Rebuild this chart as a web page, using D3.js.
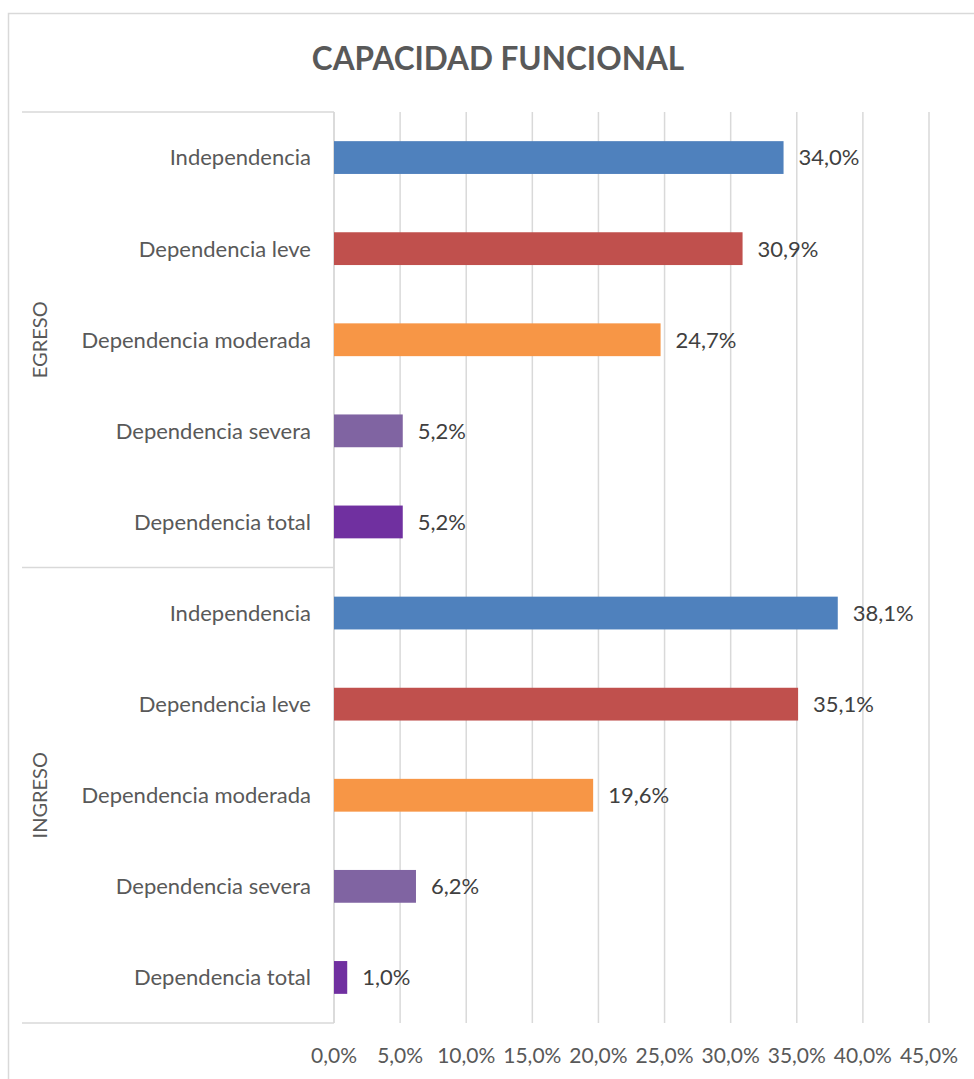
<!DOCTYPE html>
<html>
<head>
<meta charset="utf-8">
<script src="https://cdn.jsdelivr.net/npm/d3@7"></script>
<style>
  body { margin: 0; background: #fff; }
  text { font-family: "Lato", "Open Sans", sans-serif; fill: #595959; }
  .grid line { stroke: #d9d9d9; stroke-width: 1.5; }
  .frame { stroke: #d9d9d9; stroke-width: 1.5; fill: none; }
</style>
</head>
<body>
<div id="chart"></div>
<script>
//*********************** DATA ***********************
var groups = ["EGRESO", "INGRESO"];
var categories = ["Independencia", "Dependencia leve", "Dependencia moderada", "Dependencia severa", "Dependencia total"];
var colors = ["#4f81bd", "#c0504d", "#f79646", "#8064a2", "#7030a0"];
var egreso = [34.0, 30.9, 24.7, 5.2, 5.2];
var ingreso = [38.1, 35.1, 19.6, 6.2, 1.0];
var ticks = [0, 5, 10, 15, 20, 25, 30, 35, 40, 45];

var rows = [];
groups.forEach(function(g, gi) {
  var vals = gi === 0 ? egreso : ingreso;
  categories.forEach(function(c, ci) {
    rows.push({group: g, cat: c, value: vals[ci], color: colors[ci], key: g + "|" + c});
  });
});

//*********************** LAYOUT ***********************
var width = 974,
    height = 1079,
    margin = {top: 112, bottom: 56, left: 334, right: 45},
    catLeft = 22;

var fmt = function(v) { return v.toFixed(1).replace(".", ",") + "%"; };

var xScale = d3.scaleLinear().domain([0, 45]).range([margin.left, width - margin.right]);
var yScale = d3.scaleBand()
    .domain(rows.map(function(d) { return d.key; }))
    .range([margin.top, height - margin.bottom])
    .paddingInner(0.64)
    .paddingOuter(0.32);

var svg = d3.select("#chart").append("svg")
    .attr("width", width)
    .attr("height", height);

// chart frame
svg.append("rect")
    .attr("class", "frame")
    .attr("x", 8.5).attr("y", 13.5)
    .attr("width", width + 20).attr("height", height + 20);

// title
svg.append("text")
    .attr("x", 498)
    .attr("y", 70)
    .attr("text-anchor", "middle")
    .style("font-size", "31.5px")
    .style("font-weight", "bold")
    .text("CAPACIDAD FUNCIONAL");

// gridlines
svg.append("g")
    .attr("class", "grid")
    .selectAll("line")
    .data(ticks)
    .enter().append("line")
    .attr("x1", function(d) { return xScale(d); })
    .attr("x2", function(d) { return xScale(d); })
    .attr("y1", margin.top)
    .attr("y2", height - margin.bottom);

// category axis lines
var y0 = margin.top, y1 = height - margin.bottom;
var sepY = (yScale(rows[4].key) + yScale.bandwidth() + yScale(rows[5].key)) / 2;
var axisG = svg.append("g").attr("class", "grid");
[y0, sepY, y1].forEach(function(y) {
  axisG.append("line")
    .attr("x1", catLeft).attr("x2", margin.left)
    .attr("y1", y).attr("y2", y);
});
axisG.append("line")
    .attr("x1", margin.left).attr("x2", margin.left)
    .attr("y1", y0).attr("y2", y1);

// bars
svg.selectAll("rect.bar")
    .data(rows)
    .enter().append("rect")
    .attr("class", "bar")
    .attr("x", xScale(0))
    .attr("y", function(d) { return yScale(d.key); })
    .attr("width", function(d) { return xScale(d.value) - xScale(0); })
    .attr("height", yScale.bandwidth())
    .attr("fill", function(d) { return d.color; });

// value labels
svg.selectAll("text.val")
    .data(rows)
    .enter().append("text")
    .attr("class", "val")
    .attr("x", function(d) { return xScale(d.value) + 15; })
    .attr("y", function(d) { return yScale(d.key) + yScale.bandwidth() / 2; })
    .attr("dy", "0.36em")
    .style("font-size", "22px")
    .style("fill", "#404040")
    .text(function(d) { return fmt(d.value); });

// category labels
svg.selectAll("text.cat")
    .data(rows)
    .enter().append("text")
    .attr("class", "cat")
    .attr("x", margin.left - 23)
    .attr("y", function(d) { return yScale(d.key) + yScale.bandwidth() / 2; })
    .attr("dy", "0.36em")
    .attr("text-anchor", "end")
    .style("font-size", "22px")
    .text(function(d) { return d.cat; });

// group labels
groups.forEach(function(g, gi) {
  var top = gi === 0 ? y0 : sepY, bot = gi === 0 ? sepY : y1;
  svg.append("text")
    .attr("transform", "translate(47," + ((top + bot) / 2) + ") rotate(-90)")
    .attr("text-anchor", "middle")
    .style("font-size", "20px")
    .text(g);
});

// x tick labels
svg.selectAll("text.tick")
    .data(ticks)
    .enter().append("text")
    .attr("class", "tick")
    .attr("x", function(d) { return xScale(d); })
    .attr("y", 1063)
    .attr("text-anchor", "middle")
    .style("font-size", "21px")
    .text(function(d) { return fmt(d); });
</script>
</body>
</html>
